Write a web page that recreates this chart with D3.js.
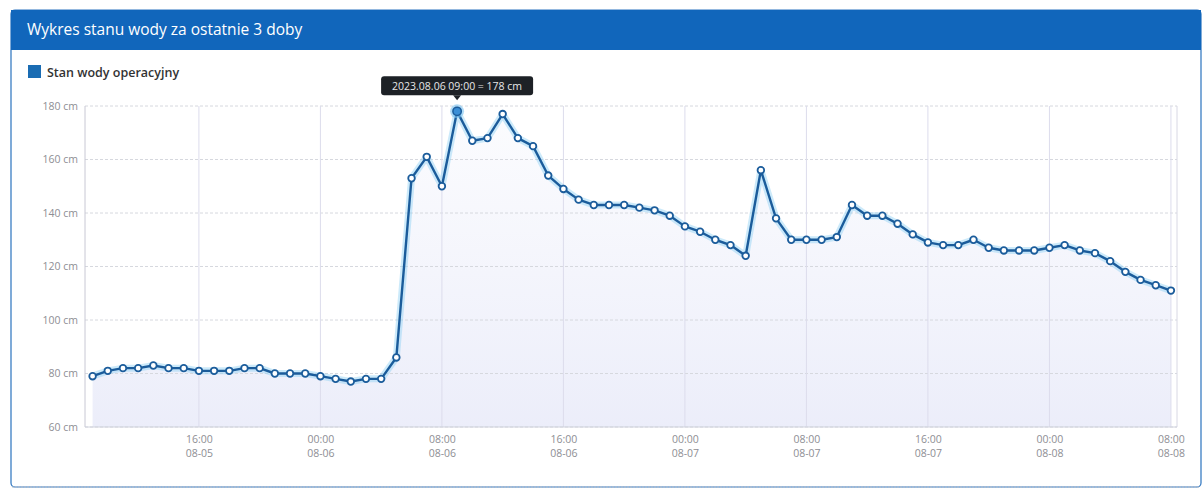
<!DOCTYPE html>
<html><head><meta charset="utf-8">
<script src="https://cdn.jsdelivr.net/npm/d3@7"></script>
<style>
html,body{margin:0;padding:0;background:#fff;}
svg{display:block;font-family:"Open Sans",sans-serif;}
</style></head>
<body>
<svg id="c" width="1204" height="493"></svg>
<script>
// ---- data ----
const title = "Wykres stanu wody za ostatnie 3 doby";
const seriesName = "Stan wody operacyjny";
const startTime = "2023-08-05 09:00"; // first hourly reading
const values0805 = [79,81,82,82,83,82,82,81,81,81,82,82,80,80,80];            // 09:00-23:00
const values0806 = [79,78,77,78,78,86,153,161,150,178,167,168,177,168,165,154,149,145,143,143,143,142,141,139];
const values0807 = [135,133,130,128,124,156,138,130,130,130,131,143,139,139,136,132,129,128,128,130,127,126,126,126];
const values0808 = [127,128,126,125,122,118,115,113,111];                      // 00:00-08:00
const yTicks = [60,80,100,120,140,160,180];
const xTicks = ["2023-08-05 16:00","2023-08-06 00:00","2023-08-06 08:00","2023-08-06 16:00","2023-08-07 00:00","2023-08-07 08:00","2023-08-07 16:00","2023-08-08 00:00","2023-08-08 08:00"];
const xDomain = ["2023-08-05 08:30","2023-08-08 08:24"];
const tooltipTime = "2023-08-06 09:00";

// ---- build ----
const parse = d3.timeParse("%Y-%m-%d %H:%M");
const allValues = [].concat(values0805, values0806, values0807, values0808);
const t0 = parse(startTime);
const data = allValues.map((v,i)=>({t: d3.timeHour.offset(t0,i), v}));

const svg = d3.select("#c");
const L=85, R=1177, T=106, B=427;
const x = d3.scaleTime().domain(xDomain.map(parse)).range([L,R]);
const y = d3.scaleLinear().domain([60,180]).range([B,T]);

// panel
svg.append("rect").attr("x",11).attr("y",10).attr("width",1190).attr("height",477)
  .attr("rx",4).attr("fill","#fff").attr("stroke","#2a73bf").attr("stroke-width",1.2);
svg.append("rect").attr("x",11).attr("y",10).attr("width",1190).attr("height",40)
  .attr("fill","#1166bb");
svg.append("line").attr("x1",12).attr("x2",1200).attr("y1",487).attr("y2",487)
  .attr("stroke","#b9bfc8").attr("stroke-dasharray","2,1");
svg.append("text").attr("x",27).attr("y",35).attr("fill","#fff").attr("font-size",15.5)
  .text(title);

// legend
svg.append("rect").attr("x",28).attr("y",65).attr("width",13).attr("height",13).attr("fill","#1a6cb3");
svg.append("text").attr("x",47).attr("y",77).attr("fill","#333").attr("font-size",12.5).attr("font-weight",600)
  .text(seriesName);

// defs
const defs = svg.append("defs");
const g1 = defs.append("linearGradient").attr("id","area").attr("x1",0).attr("x2",0).attr("y1",0).attr("y2",1);
g1.append("stop").attr("offset","0%").attr("stop-color","#d4d9f4").attr("stop-opacity",0.08);
g1.append("stop").attr("offset","100%").attr("stop-color","#cfd3f2").attr("stop-opacity",0.4);

// area
const area = d3.area().x(d=>x(d.t)).y0(B).y1(d=>y(d.v));
svg.append("path").datum(data).attr("d",area).attr("fill","url(#area)")
  .attr("transform",null);

// grid
const grid = svg.append("g");
grid.selectAll(".hg").data(yTicks).join("line")
  .attr("x1",L).attr("x2",R).attr("y1",d=>y(d)).attr("y2",d=>y(d))
  .attr("stroke","#d6d8de").attr("stroke-dasharray","3,2");
grid.selectAll(".vg").data(xTicks.map(parse)).join("line")
  .attr("x1",d=>x(d)).attr("x2",d=>x(d)).attr("y1",T).attr("y2",B)
  .attr("stroke","#dcdcec");
grid.append("line").attr("x1",L).attr("x2",L).attr("y1",T).attr("y2",B).attr("stroke","#c8c8d4");
grid.append("line").attr("x1",R).attr("x2",R).attr("y1",T).attr("y2",B).attr("stroke","#d8d8e4");
grid.append("line").attr("x1",L).attr("x2",R).attr("y1",B).attr("y2",B).attr("stroke","#cfd2dc");

// y axis labels
const yAxis = d3.axisLeft(y).tickValues(yTicks).tickSize(0).tickPadding(6).tickFormat(d=>d+" cm");
const ya = svg.append("g").attr("transform",`translate(${L-1},0)`).call(yAxis);
ya.select(".domain").remove();
ya.selectAll("text").attr("fill","#8e8e94").attr("font-size",10.5).attr("font-family","Open Sans, sans-serif");

// x axis labels
const fmtH = d3.timeFormat("%H:%M"), fmtD = d3.timeFormat("%m-%d");
const xAxis = d3.axisBottom(x).tickValues(xTicks.map(parse)).tickSize(0).tickPadding(8).tickFormat("");
const xa = svg.append("g").attr("transform",`translate(0,${B})`).call(xAxis);
xa.select(".domain").remove();
xa.selectAll(".tick").each(function(d){
  const t = d3.select(this).append("text").attr("fill","#8e8e94").attr("font-size",10.5)
    .attr("text-anchor","middle").attr("font-family","Open Sans, sans-serif");
  t.append("tspan").attr("x",0).attr("y",16).text(fmtH(d));
  t.append("tspan").attr("x",0).attr("y",30).text(fmtD(d));
});

// line glow + line
const line = d3.line().x(d=>x(d.t)).y(d=>y(d.v));
svg.append("path").datum(data).attr("d",line).attr("fill","none")
  .attr("stroke","#8fd0f5").attr("stroke-width",7).attr("stroke-opacity",0.45).attr("stroke-linejoin","round");
svg.append("path").datum(data).attr("d",line).attr("fill","none")
  .attr("stroke","#1b5c9b").attr("stroke-width",2.4).attr("stroke-linejoin","round");

// points
svg.selectAll(".pt").data(data).join("circle")
  .attr("cx",d=>x(d.t)).attr("cy",d=>y(d.v)).attr("r",3.3)
  .attr("fill","#fff").attr("stroke","#1b5c9b").attr("stroke-width",1.8);

// highlighted point + tooltip
const hp = data.find(d=>+d.t===+parse(tooltipTime));
const hx = x(hp.t), hy = y(hp.v);
svg.append("circle").attr("cx",hx).attr("cy",hy).attr("r",7).attr("fill","#7cc3f0").attr("opacity",0.6);
svg.append("circle").attr("cx",hx).attr("cy",hy).attr("r",4.2).attr("fill","#3b8fd6").attr("stroke","#1b5c9b").attr("stroke-width",1.5);

const fmtTip = d3.timeFormat("%Y.%m.%d %H:%M");
const tipText = fmtTip(hp.t) + " = " + hp.v + " cm";
const tip = svg.append("g");
const tw = 152, th = 19, tx = hx - 76, ty = hy - 35;
tip.append("rect").attr("x",tx).attr("y",ty).attr("width",tw).attr("height",th).attr("rx",3).attr("fill","#1d2126");
tip.append("path").attr("d",`M${hx-4},${ty+th} L${hx},${ty+th+5} L${hx+4},${ty+th} Z`).attr("fill","#1d2126");
tip.append("text").attr("x",tx+tw/2).attr("y",ty+13.5).attr("text-anchor","middle")
  .attr("fill","#e6e6e6").attr("font-size",10.5).text(tipText);
</script>
</body></html>
